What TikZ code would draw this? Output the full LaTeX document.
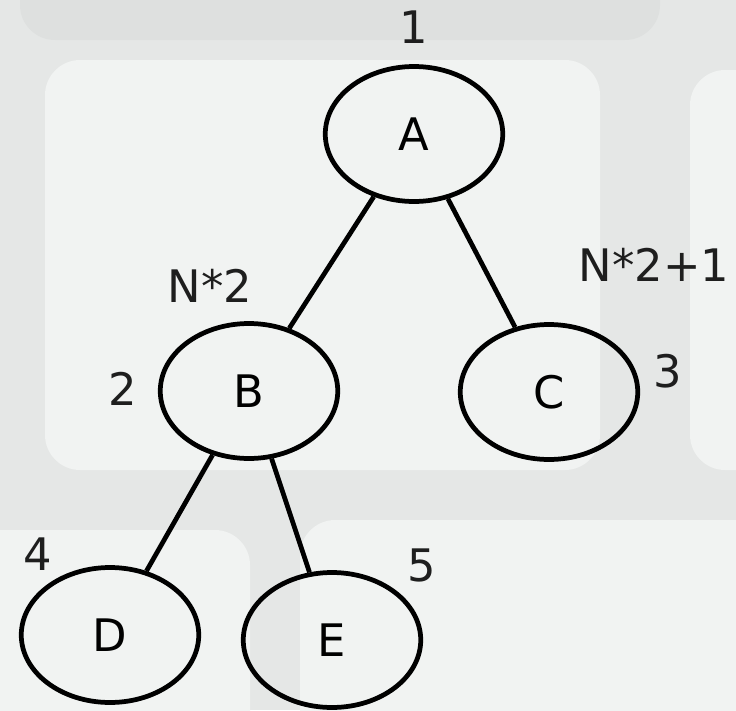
\documentclass[tikz,border=0pt]{standalone}
\usepackage{fontspec}
\setmainfont{DejaVu Sans}
\usepackage{tikz}
\usetikzlibrary{shapes.geometric,positioning}
\definecolor{keybg}{RGB}{229,231,230}
\definecolor{keytop}{RGB}{241,243,242}
\definecolor{keyedge}{RGB}{222,224,223}
\definecolor{labelgray}{RGB}{30,30,30}

\begin{document}
\begin{tikzpicture}[x=0.02cm, y=-0.02cm, every node/.style={font=\fontsize{25.5}{30}\selectfont},
    treenode/.style={ellipse, draw, line width=2.7pt, minimum width=3.55cm, minimum height=2.7cm, inner sep=0pt},
    idxlabel/.style={text=labelgray, inner sep=0pt},
    link/.style={line width=2.7pt}]
                \useasboundingbox (0,0) rectangle (736,710);
                % faint keyboard in the background
                \begin{scope}
                \clip (0,0) rectangle (736,710);
                \fill[keybg] (0,0) rectangle (736,710);
                \fill[keyedge, rounded corners=20pt] (20,-60) rectangle (660,40);
                \fill[keytop, rounded corners=20pt] (45,60) rectangle (600,470);
                \fill[keytop, rounded corners=20pt] (690,70) rectangle (800,470);
                \fill[keytop, rounded corners=20pt] (-60,530) rectangle (250,780);
                \fill[keytop, rounded corners=20pt] (300,520) rectangle (800,780);
                \end{scope}

                % the tree
                \node[treenode] (A) at (414,134) {A};
                \node[treenode] (B) at (249,391) {B};
                \node[treenode] (C) at (549,392) {C};
                \node[treenode] (D) at (110,635) {D};
                \node[treenode] (E) at (332,640) {E};

                \draw[link] (A) -- (B);
                \draw[link] (A) -- (C);
                \draw[link] (B) -- (D);
                \draw[link] (B) -- (E);

                % array indices
                \node[idxlabel] (iA) at (414,27) {1};
                \node[idxlabel] (left) at (210,286) {N*2};
                \node[idxlabel] (right) at (654,265) {N*2+1};
                \node[idxlabel] (iB) at (123,389) {2};
                \node[idxlabel] (iC) at (668,371) {3};
                \node[idxlabel] (iD) at (38,554) {4};
                \node[idxlabel] (iE) at (422,565) {5};
            \end{tikzpicture}
\end{document}
